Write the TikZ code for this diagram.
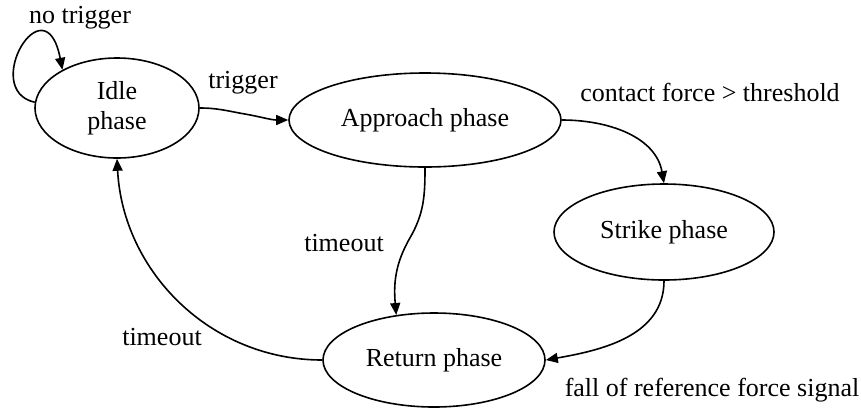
\documentclass[tikz,border=0pt]{standalone}
\usepackage{fontspec}
\setmainfont{Liberation Serif}
\usetikzlibrary{positioning}
\usetikzlibrary{shapes.geometric,arrows.meta}
\tikzset{
  phasenode/.style={draw, ellipse, inner sep=0pt, line width=0.8pt, align=center},
  trans/.style={-{Triangle[length=6pt,width=5pt]}, line width=0.8pt},
}

\begin{document}
\begin{tikzpicture}[x=0.5pt, y=-0.5pt, font=\fontsize{13}{15}\selectfont]
  \useasboundingbox (0,0) rectangle (861,408);

  \begin{scope}[every node/.style={phasenode}]
    \node [minimum width=82pt, minimum height=50pt] (idle) at (117,108) {Idle\\phase};
    \node [minimum width=136pt, minimum height=47pt] (app) at (425,120) {Approach phase};
    \node [minimum width=110pt, minimum height=48pt] (strike) at (664,232) {Strike phase};
    \node [minimum width=111pt, minimum height=47pt] (ret) at (434,360) {Return phase};
  \end{scope}

  \draw [trans] (idle.176) .. controls (-20,90) and (45,-20) .. (idle.145);
  \draw [trans] (idle.east) to[out=0,in=170] ++(45,6) to[out=-10,in=180] (app.west);
  \draw [trans] (app.east) to[out=0,in=100] (strike.north);
  \draw [trans] (app.south) to[out=-90,in=60] ++(-15,70) to[out=-120,in=95] (ret.130);
  \draw [trans] (strike.south) to[out=-90,in=10] (ret.east);
  \draw [trans] (ret.west) to[out=180,in=-87] (idle.south);

  \node (lnotrig) at (80,18) {no trigger};
  \node (ltrig) at (243,83) {trigger};
  \node (lcontact) at (710,92) {contact force > threshold};
  \node (ltimeapp) at (344,243) {timeout};
  \node (ltimeret) at (162,337) {timeout};
  \node (lfall) at (712,390) {fall of reference force signal};

\end{tikzpicture}
\end{document}
